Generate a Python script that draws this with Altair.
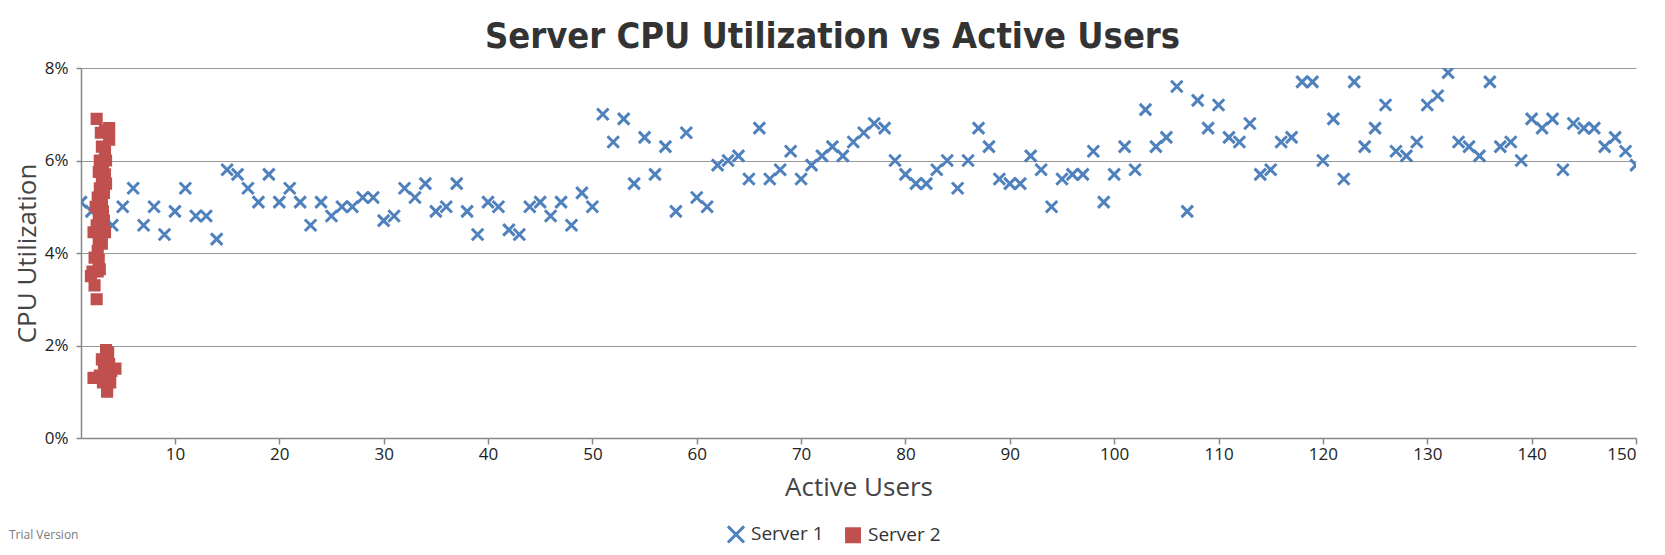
import altair as alt
import pandas as pd

# ---------------- data ----------------
server1_users = list(range(1, 151))
server1_cpu = [
    5.1, 4.9, 4.8, 4.6, 5.0, 5.4, 4.6, 5.0, 4.4, 4.9,
    5.4, 4.8, 4.8, 4.3, 5.8, 5.7, 5.4, 5.1, 5.7, 5.1,
    5.4, 5.1, 4.6, 5.1, 4.8, 5.0, 5.0, 5.2, 5.2, 4.7,
    4.8, 5.4, 5.2, 5.5, 4.9, 5.0, 5.5, 4.9, 4.4, 5.1,
    5.0, 4.5, 4.4, 5.0, 5.1, 4.8, 5.1, 4.6, 5.3, 5.0,
    7.0, 6.4, 6.9, 5.5, 6.5, 5.7, 6.3, 4.9, 6.6, 5.2,
    5.0, 5.9, 6.0, 6.1, 5.6, 6.7, 5.6, 5.8, 6.2, 5.6,
    5.9, 6.1, 6.3, 6.1, 6.4, 6.6, 6.8, 6.7, 6.0, 5.7,
    5.5, 5.5, 5.8, 6.0, 5.4, 6.0, 6.7, 6.3, 5.6, 5.5,
    5.5, 6.1, 5.8, 5.0, 5.6, 5.7, 5.7, 6.2, 5.1, 5.7,
    6.3, 5.8, 7.1, 6.3, 6.5, 7.6, 4.9, 7.3, 6.7, 7.2,
    6.5, 6.4, 6.8, 5.7, 5.8, 6.4, 6.5, 7.7, 7.7, 6.0,
    6.9, 5.6, 7.7, 6.3, 6.7, 7.2, 6.2, 6.1, 6.4, 7.2,
    7.4, 7.9, 6.4, 6.3, 6.1, 7.7, 6.3, 6.4, 6.0, 6.9,
    6.7, 6.9, 5.8, 6.8, 6.7, 6.7, 6.3, 6.5, 6.2, 5.9,
]

server2_users = [
    2.5, 3.7, 2.9, 3.3, 3.7, 3.0, 3.3, 3.4, 2.8, 3.1,
    2.7, 3.3, 3.0, 3.4, 2.8, 3.2, 2.6, 3.0, 2.4, 3.1,
    2.7, 3.2, 2.5, 2.9, 2.2, 3.3, 2.7, 3.0, 2.6, 2.3,
    2.7, 2.1, 2.6, 2.8, 1.95, 2.3, 2.5,
    3.4, 3.6, 3.5, 3.0, 3.7, 4.3, 3.2, 3.9, 2.2, 2.8,
    3.4, 3.8, 3.1, 3.5, 3.5,
]
server2_cpu = [
    6.9, 6.7, 6.6, 6.65, 6.45, 6.3, 6.2, 6.0, 6.0, 5.9,
    5.75, 5.7, 5.6, 5.5, 5.4, 5.3, 5.2, 5.1, 5.0, 4.9,
    4.8, 4.7, 4.6, 4.55, 4.45, 4.45, 4.3, 4.2, 4.05, 3.9,
    3.85, 3.6, 3.6, 3.65, 3.5, 3.3, 3.0,
    1.9, 1.85, 1.75, 1.7, 1.6, 1.5, 1.5, 1.45, 1.3, 1.35,
    1.3, 1.2, 1.2, 1.1, 1.0,
]

series_names = ["Server 1", "Server 2"]
series_colors = ["#4F81BC", "#C0504E"]
x_ticks = [10, 20, 30, 40, 50, 60, 70, 80, 90, 100, 110, 120, 130, 140, 150]
y_ticks = [0, 2, 4, 6, 8]

df = pd.concat([
    pd.DataFrame({"users": server1_users, "cpu": server1_cpu, "series": "Server 1"}),
    pd.DataFrame({"users": server2_users, "cpu": server2_cpu, "series": "Server 2"}),
], ignore_index=True)

X_PATH = "M-1,-1L1,1M-1,1L1,-1"
SQ_PATH = "M-0.8,-0.8H0.8V0.8H-0.8Z"
FONT = "Open Sans"
TITLE_FONT = "Liberation Sans Narrow, DejaVu Sans Condensed, Roboto, sans-serif"

legend_kw = dict(title=None, orient="none", direction="horizontal",
                 legendX=645, legendY=456)

points = alt.Chart(df).mark_point(
    filled=True, size=130, strokeWidth=3, opacity=1, clip=True
).encode(
    x=alt.X("users:Q",
            scale=alt.Scale(domain=[1, 150], nice=False, zero=False),
            axis=alt.Axis(values=x_ticks, title="Active Users", grid=False,
                          tickSize=6, labelPadding=2, titlePadding=12)),
    y=alt.Y("cpu:Q",
            scale=alt.Scale(domain=[0, 8], nice=False),
            axis=alt.Axis(values=y_ticks, title="CPU Utilization", grid=True,
                          labelExpr="datum.value + '%'", tickSize=5,
                          labelPadding=8, titlePadding=4)),
    color=alt.Color("series:N",
                    scale=alt.Scale(domain=series_names, range=series_colors),
                    legend=alt.Legend(**legend_kw)),
    stroke=alt.Stroke("series:N",
                      scale=alt.Scale(domain=series_names, range=series_colors),
                      legend=alt.Legend(**legend_kw)),
    shape=alt.Shape("series:N",
                    scale=alt.Scale(domain=series_names, range=[X_PATH, SQ_PATH]),
                    legend=alt.Legend(**legend_kw)),
)

watermark = alt.Chart(pd.DataFrame({"t": ["Trial Version"]})).mark_text(
    align="left", baseline="middle", fontSize=12, color="#7a7a7a", font=FONT
).encode(
    text="t:N",
    x=alt.value(-72),
    y=alt.value(467),
)

chart = alt.layer(points, watermark).properties(
    width=1555,
    height=370,
    autosize=alt.AutoSizeParams(type="none"),
    padding={"left": 73, "top": 60, "right": 21, "bottom": 109},
    title=alt.TitleParams(
        "Server CPU Utilization vs Active Users",
        font=TITLE_FONT,
        fontSize=36,
        fontWeight="bold",
        color="#333333",
        anchor="middle",
        dx=-26,
        offset=3,
    ),
).configure_view(
    stroke=None
).configure_axis(
    labelFont=FONT,
    labelFontSize=17,
    labelColor="#222222",
    titleFont=FONT,
    titleFontSize=26,
    titleFontWeight="normal",
    titleColor="#444444",
    domainColor="#888888",
    domainWidth=1.5,
    tickColor="#888888",
    tickWidth=1.5,
    gridColor="#999999",
    gridWidth=1,
).configure_legend(
    labelFont=FONT,
    labelFontSize=19,
    labelColor="#333333",
    symbolSize=260,
    symbolStrokeWidth=3,
    columnPadding=16,
    labelOffset=5,
)

chart.save("out.html", embed_options={"renderer": "svg", "actions": False})
